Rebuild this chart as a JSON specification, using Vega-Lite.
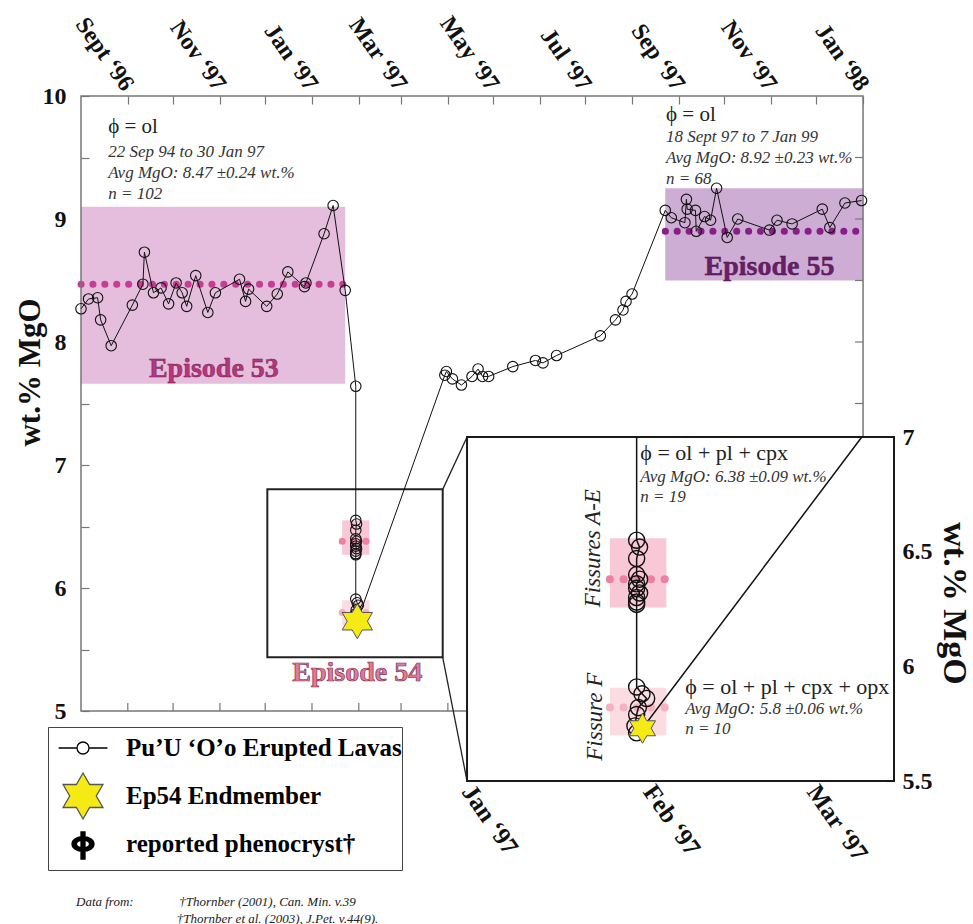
{
  "$schema": "https://vega.github.io/schema/vega-lite/v6.json",
  "width": 813,
  "height": 685,
  "autosize": {"type": "none"},
  "padding": {"left": 81, "top": 96, "right": 79, "bottom": 143},
  "background": "white",
  "config": {
    "font": "Liberation Serif",
    "view": {"stroke": null},
    "axis": {"grid": false, "domain": false, "tickColor": "#777", "tickWidth": 1.2, "labelFont": "Liberation Serif", "labelFontWeight": "bold", "labelColor": "#111", "titleFont": "Liberation Serif", "titleFontWeight": "bold", "titleColor": "#111", "labelOverlap": false, "labelFlush": false, "zindex": 1},
    "legend": {"orient": "none", "legendX": -33, "legendY": 631, "padding": 0, "strokeColor": "#444", "fillColor": "white", "labelFont": "Liberation Serif", "labelFontSize": 25, "labelFontWeight": "bold", "labelColor": "#000", "labelLimit": 0, "labelOffset": 22, "symbolSize": 1600, "symbolOffset": 14, "rowPadding": -4, "symbolStrokeWidth": 1.3}
  },
  "title": {
    "text": ["Data from:\u00a0\u00a0\u00a0\u00a0\u00a0\u00a0\u00a0\u00a0\u00a0\u00a0\u00a0\u00a0\u00a0\u00a0†Thornber (2001), Can. Min. v.39", "\u200b\u00a0\u00a0\u00a0\u00a0\u00a0\u00a0\u00a0\u00a0\u00a0\u00a0\u00a0\u00a0\u00a0\u00a0\u00a0\u00a0\u00a0\u00a0\u00a0\u00a0\u00a0\u00a0\u00a0\u00a0\u00a0\u00a0\u00a0\u00a0\u00a0\u00a0\u00a0†Thornber et al. (2003), J.Pet. v.44(9)."],
    "orient": "bottom", "anchor": "start", "frame": "group", "offset": 25, "dx": -5,
    "font": "Liberation Serif", "fontSize": 13, "fontStyle": "italic", "fontWeight": "normal", "color": "#222", "lineHeight": 17
  },
  "datasets": {
    "lavas": [
      {"i": 1, "date": "1996-08-01", "mgo": 8.27, "ep": "53"},
      {"i": 2, "date": "1996-08-06", "mgo": 8.35, "ep": "53"},
      {"i": 3, "date": "1996-08-12", "mgo": 8.36, "ep": "53"},
      {"i": 4, "date": "1996-08-14", "mgo": 8.18, "ep": "53"},
      {"i": 5, "date": "1996-08-21", "mgo": 7.97, "ep": "53"},
      {"i": 6, "date": "1996-09-04", "mgo": 8.30, "ep": "53"},
      {"i": 7, "date": "1996-09-11", "mgo": 8.47, "ep": "53"},
      {"i": 8, "date": "1996-09-12", "mgo": 8.73, "ep": "53"},
      {"i": 9, "date": "1996-09-18", "mgo": 8.40, "ep": "53"},
      {"i": 10, "date": "1996-09-23", "mgo": 8.44, "ep": "53"},
      {"i": 11, "date": "1996-09-28", "mgo": 8.31, "ep": "53"},
      {"i": 12, "date": "1996-10-03", "mgo": 8.48, "ep": "53"},
      {"i": 13, "date": "1996-10-07", "mgo": 8.40, "ep": "53"},
      {"i": 14, "date": "1996-10-10", "mgo": 8.29, "ep": "53"},
      {"i": 15, "date": "1996-10-16", "mgo": 8.54, "ep": "53"},
      {"i": 16, "date": "1996-10-24", "mgo": 8.24, "ep": "53"},
      {"i": 17, "date": "1996-10-29", "mgo": 8.40, "ep": "53"},
      {"i": 18, "date": "1996-11-14", "mgo": 8.51, "ep": "53"},
      {"i": 19, "date": "1996-11-18", "mgo": 8.33, "ep": "53"},
      {"i": 20, "date": "1996-11-20", "mgo": 8.43, "ep": "53"},
      {"i": 21, "date": "1996-12-02", "mgo": 8.29, "ep": "53"},
      {"i": 22, "date": "1996-12-09", "mgo": 8.39, "ep": "53"},
      {"i": 23, "date": "1996-12-16", "mgo": 8.57, "ep": "53"},
      {"i": 24, "date": "1996-12-27", "mgo": 8.45, "ep": "53"},
      {"i": 25, "date": "1996-12-28", "mgo": 8.48, "ep": "53"},
      {"i": 26, "date": "1997-01-09", "mgo": 8.88, "ep": "53"},
      {"i": 27, "date": "1997-01-15", "mgo": 9.11, "ep": "53"},
      {"i": 28, "date": "1997-01-23", "mgo": 8.42, "ep": "53"},
      {"i": 29, "date": "1997-01-30", "mgo": 7.64, "ep": "53"},
      {"i": 30, "date": "1997-01-30", "mgo": 7.00, "ep": "edge"},
      {"i": 31, "date": "1997-01-30", "mgo": 6.55, "ep": "54"},
      {"i": 32, "date": "1997-01-30T12:00:00Z", "mgo": 6.52, "ep": "54"},
      {"i": 33, "date": "1997-01-30", "mgo": 6.47, "ep": "54"},
      {"i": 34, "date": "1997-01-30", "mgo": 6.40, "ep": "54"},
      {"i": 35, "date": "1997-01-30T12:00:00Z", "mgo": 6.38, "ep": "54"},
      {"i": 36, "date": "1997-01-30", "mgo": 6.36, "ep": "54"},
      {"i": 37, "date": "1997-01-30", "mgo": 6.34, "ep": "54"},
      {"i": 38, "date": "1997-01-30T12:00:00Z", "mgo": 6.32, "ep": "54"},
      {"i": 39, "date": "1997-01-30", "mgo": 6.30, "ep": "54"},
      {"i": 40, "date": "1997-01-30", "mgo": 6.28, "ep": "54"},
      {"i": 41, "date": "1997-01-30", "mgo": 6.27, "ep": "54"},
      {"i": 42, "date": "1997-01-30", "mgo": 5.91, "ep": "54"},
      {"i": 43, "date": "1997-01-30T22:00:00Z", "mgo": 5.88, "ep": "54"},
      {"i": 44, "date": "1997-01-31T17:00:00Z", "mgo": 5.86, "ep": "54"},
      {"i": 45, "date": "1997-01-30T07:00:00Z", "mgo": 5.82, "ep": "54"},
      {"i": 46, "date": "1997-01-30", "mgo": 5.79, "ep": "54"},
      {"i": 47, "date": "1997-01-29T17:00:00Z", "mgo": 5.74, "ep": "54"},
      {"i": 48, "date": "1997-01-30", "mgo": 5.71, "ep": "54"},
      {"i": 49, "date": "1997-01-31", "mgo": 5.73, "ep": "54"},
      {"i": 50, "date": "1997-03-09T12:00:00Z", "mgo": 7.00, "ep": "edge"},
      {"i": 51, "date": "1997-03-30", "mgo": 7.73, "ep": "55"},
      {"i": 52, "date": "1997-03-31", "mgo": 7.76, "ep": "55"},
      {"i": 53, "date": "1997-04-04", "mgo": 7.70, "ep": "55"},
      {"i": 54, "date": "1997-04-10", "mgo": 7.65, "ep": "55"},
      {"i": 55, "date": "1997-04-17", "mgo": 7.72, "ep": "55"},
      {"i": 56, "date": "1997-04-21", "mgo": 7.78, "ep": "55"},
      {"i": 57, "date": "1997-04-24", "mgo": 7.72, "ep": "55"},
      {"i": 58, "date": "1997-04-28", "mgo": 7.72, "ep": "55"},
      {"i": 59, "date": "1997-05-14", "mgo": 7.80, "ep": "55"},
      {"i": 60, "date": "1997-05-29", "mgo": 7.85, "ep": "55"},
      {"i": 61, "date": "1997-06-03", "mgo": 7.83, "ep": "55"},
      {"i": 62, "date": "1997-06-12", "mgo": 7.89, "ep": "55"},
      {"i": 63, "date": "1997-07-11", "mgo": 8.05, "ep": "55"},
      {"i": 64, "date": "1997-07-21", "mgo": 8.18, "ep": "55"},
      {"i": 65, "date": "1997-07-26", "mgo": 8.26, "ep": "55"},
      {"i": 66, "date": "1997-07-28", "mgo": 8.33, "ep": "55"},
      {"i": 67, "date": "1997-08-01", "mgo": 8.39, "ep": "55"},
      {"i": 68, "date": "1997-08-23", "mgo": 9.07, "ep": "55"},
      {"i": 69, "date": "1997-08-27", "mgo": 9.01, "ep": "55"},
      {"i": 70, "date": "1997-09-05", "mgo": 8.97, "ep": "55"},
      {"i": 71, "date": "1997-09-06", "mgo": 9.16, "ep": "55"},
      {"i": 72, "date": "1997-09-06T12:00:00Z", "mgo": 9.08, "ep": "55"},
      {"i": 73, "date": "1997-09-12", "mgo": 9.07, "ep": "55"},
      {"i": 74, "date": "1997-09-12T12:00:00Z", "mgo": 8.90, "ep": "55"},
      {"i": 75, "date": "1997-09-18", "mgo": 9.02, "ep": "55"},
      {"i": 76, "date": "1997-09-22", "mgo": 8.99, "ep": "55"},
      {"i": 77, "date": "1997-09-26", "mgo": 9.25, "ep": "55"},
      {"i": 78, "date": "1997-10-03", "mgo": 8.85, "ep": "55"},
      {"i": 79, "date": "1997-10-10", "mgo": 9.00, "ep": "55"},
      {"i": 80, "date": "1997-10-31", "mgo": 8.91, "ep": "55"},
      {"i": 81, "date": "1997-11-05", "mgo": 8.99, "ep": "55"},
      {"i": 82, "date": "1997-11-15", "mgo": 8.96, "ep": "55"},
      {"i": 83, "date": "1997-12-05", "mgo": 9.08, "ep": "55"},
      {"i": 84, "date": "1997-12-10", "mgo": 8.93, "ep": "55"},
      {"i": 85, "date": "1997-12-20", "mgo": 9.13, "ep": "55"},
      {"i": 86, "date": "1997-12-31", "mgo": 9.15, "ep": "55"}
    ],
    "endmember": [{"date": "1997-01-31", "mgo": 5.73}],
    "bands": [
      {"view": "main", "episode": "53", "start": "1996-08-01", "end": "1997-01-23", "lo": 7.66, "hi": 9.10, "avg": 8.47},
      {"view": "main", "episode": "55", "start": "1997-08-23", "end": "1998-01-01", "lo": 8.50, "hi": 9.25, "avg": 8.90},
      {"view": "main", "episode": "54 A-E", "start": "1997-01-21", "end": "1997-02-08", "lo": 6.27, "hi": 6.55, "avg": 6.38},
      {"view": "main", "episode": "54 F", "start": "1997-01-21", "end": "1997-02-08", "lo": 5.70, "hi": 5.90, "avg": 5.80},
      {"view": "inset", "episode": "54 A-E", "start": "1997-01-25T10:00:00Z", "end": "1997-02-04T02:00:00Z", "lo": 6.257, "hi": 6.558, "avg": 6.38},
      {"view": "inset", "episode": "54 F", "start": "1997-01-25T10:00:00Z", "end": "1997-02-04T02:00:00Z", "lo": 5.70, "hi": 5.907, "avg": 5.82}
    ],
    "months": [{"m": "1996-09-01"}, {"m": "1996-10-01"}, {"m": "1996-11-01"}, {"m": "1996-12-01"}, {"m": "1997-01-01"}, {"m": "1997-02-01"}, {"m": "1997-03-01"}, {"m": "1997-04-01"}],
    "levels": [{"v": 7.5}, {"v": 8}, {"v": 8.5}, {"v": 9}, {"v": 9.5}],
    "notes": [
      {"kind": "header", "view": "main", "date": "1996-08-19", "mgo": 9.745, "text": "ϕ = ol"},
      {"kind": "header", "view": "main", "date": "1997-08-23T12:00:00Z", "mgo": 9.846, "text": "ϕ = ol"},
      {"kind": "detail", "view": "main", "date": "1996-08-19", "mgo": 9.611, "text": "22 Sep 94 to 30 Jan 97\nAvg MgO: 8.47 ±0.24 wt.%\nn = 102"},
      {"kind": "detail", "view": "main", "date": "1997-08-23T12:00:00Z", "mgo": 9.733, "text": "18 Sept 97 to 7 Jan 99\nAvg MgO: 8.92 ±0.23 wt.%\nn = 68"},
      {"kind": "ep53", "view": "main", "date": "1996-10-28", "mgo": 7.778, "text": "Episode 53"},
      {"kind": "ep55", "view": "main", "date": "1997-10-31", "mgo": 8.612, "text": "Episode 55"},
      {"kind": "ep54", "view": "main", "date": "1997-01-31", "mgo": 5.311, "text": "Episode 54"},
      {"kind": "header", "view": "inset", "date": "1997-01-30T15:00:00Z", "mgo": 6.929, "text": "ϕ = ol + pl + cpx"},
      {"kind": "header", "view": "inset", "date": "1997-02-07T07:00:00Z", "mgo": 5.911, "text": "ϕ = ol + pl + cpx + opx"},
      {"kind": "detail", "view": "inset", "date": "1997-01-30T15:00:00Z", "mgo": 6.861, "text": "Avg MgO: 6.38 ±0.09 wt.%\nn = 19"},
      {"kind": "detail", "view": "inset", "date": "1997-02-07T07:00:00Z", "mgo": 5.851, "text": "Avg MgO: 5.8 ±0.06 wt.%\nn = 10"},
      {"kind": "fissure", "view": "inset", "date": "1997-01-22T14:00:00Z", "mgo": 6.515, "text": "Fissures A-E"},
      {"kind": "fissure", "view": "inset", "date": "1997-01-22T22:00:00Z", "mgo": 5.78, "text": "Fissure F"}
    ],
    "legendEntries": [{"entry": "Pu’U ‘O’o Erupted Lavas"}, {"entry": "Ep54 Endmember"}, {"entry": "reported phenocryst†"}]
  },
  "resolve": {"scale": {"x": "independent", "y": "independent", "fill": "independent", "stroke": "independent", "shape": "independent"}},
  "layer": [
    {
      "layer": [
        {
          "data": {"name": "bands"},
          "transform": [{"filter": "datum.view == 'main'"}],
          "mark": {"type": "rect"},
          "encoding": {
            "x": {"field": "start", "type": "temporal",
              "scale": {"type": "utc", "domain": [{"year": 1996, "month": 8, "date": 1, "utc": true}, {"year": 1998, "month": 1, "date": 21, "hours": 12, "utc": true}], "nice": false},
              "axis": {"orient": "top", "title": null,
                "values": [{"year": 1996, "month": 9, "date": 1, "utc": true}, {"year": 1996, "month": 10, "date": 1, "utc": true}, {"year": 1996, "month": 11, "date": 1, "utc": true}, {"year": 1996, "month": 12, "date": 1, "utc": true}, {"year": 1997, "month": 1, "date": 1, "utc": true}, {"year": 1997, "month": 2, "date": 1, "utc": true}, {"year": 1997, "month": 3, "date": 1, "utc": true}, {"year": 1997, "month": 4, "date": 1, "utc": true}, {"year": 1997, "month": 5, "date": 1, "utc": true}, {"year": 1997, "month": 6, "date": 1, "utc": true}, {"year": 1997, "month": 7, "date": 1, "utc": true}, {"year": 1997, "month": 8, "date": 1, "utc": true}, {"year": 1997, "month": 9, "date": 1, "utc": true}, {"year": 1997, "month": 10, "date": 1, "utc": true}, {"year": 1997, "month": 11, "date": 1, "utc": true}, {"year": 1997, "month": 12, "date": 1, "utc": true}, {"year": 1998, "month": 1, "date": 1, "utc": true}],
                "labelExpr": "utcmonth(datum.value) % 2 == 0 ? ['Sept ‘96','Nov ‘97','Jan ‘97','Mar ‘97','May ‘97','Jul ‘97','Sep ‘97','Nov ‘97','Jan ‘98'][((utcyear(datum.value) - 1996) * 12 + utcmonth(datum.value) - 8) / 2] : ''",
                "labelAngle": 55, "labelAlign": "right", "labelBaseline": "middle", "labelFontSize": 24, "labelPadding": 16, "tickSize": -8}},
            "x2": {"field": "end"},
            "y": {"field": "lo", "type": "quantitative",
              "scale": {"domain": [4.431, 10], "nice": false, "zero": false},
              "axis": {"orient": "left", "title": "wt.% MgO", "values": [5, 5.5, 6, 6.5, 7, 7.5, 8, 8.5, 9, 9.5, 10], "format": "~g",
                "labelExpr": "datum.value % 1 == 0 ? datum.label : ''", "labelFontSize": 24, "labelPadding": 23, "tickSize": -8,
                "titleFontSize": 31, "titleAngle": 270, "titleX": -51, "titleY": 276, "titleAlign": "center", "titleBaseline": "middle"}},
            "y2": {"field": "hi"},
            "fill": {"field": "episode", "type": "nominal", "scale": {"domain": ["53", "55", "54 A-E", "54 F"], "range": ["#e5bedd", "#cdadd4", "#f9c8d6", "#fcdce3"]}, "legend": null}
          }
        },
        {
          "data": {"name": "bands"},
          "transform": [{"filter": "datum.view == 'main'"}],
          "mark": {"type": "rule", "strokeWidth": 7, "strokeCap": "round", "strokeDash": [0.1, 11.8]},
          "encoding": {
            "x": {"field": "start", "type": "temporal"},
            "x2": {"field": "end"},
            "y": {"field": "avg", "type": "quantitative"},
            "stroke": {"field": "episode", "type": "nominal", "scale": {"domain": ["53", "55", "54 A-E", "54 F"], "range": ["#c63d92", "#8a1e88", "#ee80a6", "#f5adc0"]}, "legend": null}
          }
        },
        {
          "data": {"values": [{}]},
          "mark": {"type": "rect", "filled": false, "stroke": "#777", "strokeWidth": 1.5},
          "encoding": {
            "x": {"datum": {"year": 1996, "month": 8, "date": 1, "utc": true}, "type": "temporal"},
            "x2": {"datum": {"year": 1998, "month": 1, "date": 1, "utc": true}},
            "y": {"datum": 5, "type": "quantitative"},
            "y2": {"datum": 10}
          }
        },
        {
          "data": {"name": "months"},
          "mark": {"type": "tick", "orient": "vertical", "size": 8, "thickness": 1.2, "color": "#777", "yOffset": -4, "opacity": 1},
          "encoding": {
            "x": {"field": "m", "type": "temporal"},
            "y": {"datum": 5, "type": "quantitative"}
          }
        },
        {
          "data": {"name": "levels"},
          "mark": {"type": "tick", "orient": "horizontal", "size": 8, "thickness": 1.2, "color": "#777", "xOffset": -4, "opacity": 1},
          "encoding": {
            "x": {"datum": {"year": 1998, "month": 1, "date": 1, "utc": true}, "type": "temporal"},
            "y": {"field": "v", "type": "quantitative"}
          }
        },
        {
          "data": {"values": [{}]},
          "mark": {"type": "rect", "filled": false, "stroke": "#222", "strokeWidth": 2},
          "encoding": {
            "x": {"datum": {"year": 1996, "month": 12, "date": 2, "hours": 10, "utc": true}, "type": "temporal"},
            "x2": {"datum": {"year": 1997, "month": 3, "date": 28, "hours": 14, "utc": true}},
            "y": {"datum": 5.437, "type": "quantitative"},
            "y2": {"datum": 6.802}
          }
        },
        {
          "data": {"values": [{}]},
          "mark": {"type": "rule", "stroke": "#222", "strokeWidth": 1.3},
          "encoding": {
            "x": {"datum": {"year": 1997, "month": 3, "date": 28, "hours": 14, "utc": true}, "type": "temporal"},
            "y": {"datum": 6.802, "type": "quantitative"},
            "x2": {"datum": {"year": 1997, "month": 4, "date": 13, "hours": 17, "utc": true}},
            "y2": {"datum": 7.228}
          }
        },
        {
          "data": {"values": [{}]},
          "mark": {"type": "rule", "stroke": "#222", "strokeWidth": 1.3},
          "encoding": {
            "x": {"datum": {"year": 1997, "month": 3, "date": 28, "hours": 14, "utc": true}, "type": "temporal"},
            "y": {"datum": 5.437, "type": "quantitative"},
            "x2": {"datum": {"year": 1997, "month": 4, "date": 13, "hours": 17, "utc": true}},
            "y2": {"datum": 4.431}
          }
        },
        {
          "data": {"name": "lavas"},
          "transform": [{"filter": "datum.ep != 'edge'"}],
          "mark": {"type": "line", "color": "#111", "strokeWidth": 1},
          "encoding": {
            "x": {"field": "date", "type": "temporal"},
            "y": {"field": "mgo", "type": "quantitative"},
            "order": {"field": "i", "type": "quantitative"}
          }
        },
        {
          "data": {"name": "lavas"},
          "transform": [{"filter": "datum.ep != 'edge'"}],
          "mark": {"type": "point", "shape": "circle", "size": 110, "filled": false, "stroke": "#111", "strokeWidth": 1.1, "opacity": 1},
          "encoding": {
            "x": {"field": "date", "type": "temporal"},
            "y": {"field": "mgo", "type": "quantitative"}
          }
        },
        {
          "data": {"name": "endmember"},
          "mark": {"type": "point", "shape": "M0,-1L0.2887,-0.5L0.866,-0.5L0.5774,0L0.866,0.5L0.2887,0.5L0,1L-0.2887,0.5L-0.866,0.5L-0.5774,0L-0.866,-0.5L-0.2887,-0.5Z", "size": 1225, "filled": true, "fill": "#f5ea14", "stroke": "#555", "strokeWidth": 1, "opacity": 1},
          "encoding": {
            "x": {"field": "date", "type": "temporal"},
            "y": {"field": "mgo", "type": "quantitative"}
          }
        },
        {
          "data": {"name": "notes"},
          "transform": [{"filter": "datum.kind == 'header' && datum.view == 'main'"}],
          "mark": {"type": "text", "align": "left", "baseline": "middle", "fontSize": 21, "color": "#222"},
          "encoding": {
            "x": {"field": "date", "type": "temporal"},
            "y": {"field": "mgo", "type": "quantitative"},
            "text": {"field": "text"}
          }
        },
        {
          "data": {"name": "notes"},
          "transform": [{"filter": "datum.kind == 'detail' && datum.view == 'main'"}],
          "mark": {"type": "text", "align": "left", "baseline": "top", "fontSize": 17, "fontStyle": "italic", "lineBreak": "\n", "lineHeight": 21, "color": "#333"},
          "encoding": {
            "x": {"field": "date", "type": "temporal"},
            "y": {"field": "mgo", "type": "quantitative"},
            "text": {"field": "text"}
          }
        },
        {
          "data": {"name": "notes"},
          "transform": [{"filter": "datum.kind == 'ep53'"}],
          "mark": {"type": "text", "align": "center", "baseline": "middle", "fontSize": 28, "fontWeight": "bold", "color": "#b8357f", "stroke": "#6e1f4c", "strokeWidth": 0.5},
          "encoding": {
            "x": {"field": "date", "type": "temporal"},
            "y": {"field": "mgo", "type": "quantitative"},
            "text": {"field": "text"}
          }
        },
        {
          "data": {"name": "notes"},
          "transform": [{"filter": "datum.kind == 'ep55'"}],
          "mark": {"type": "text", "align": "center", "baseline": "middle", "fontSize": 28, "fontWeight": "bold", "color": "#6a1d6d", "stroke": "#3e0c40", "strokeWidth": 0.4},
          "encoding": {
            "x": {"field": "date", "type": "temporal"},
            "y": {"field": "mgo", "type": "quantitative"},
            "text": {"field": "text"}
          }
        },
        {
          "data": {"name": "notes"},
          "transform": [{"filter": "datum.kind == 'ep54'"}],
          "mark": {"type": "text", "align": "center", "baseline": "middle", "fontSize": 28, "fontWeight": "bold", "color": "#e07a9c", "stroke": "#7c2d4a", "strokeWidth": 0.7},
          "encoding": {
            "x": {"field": "date", "type": "temporal"},
            "y": {"field": "mgo", "type": "quantitative"},
            "text": {"field": "text"}
          }
        }
      ]
    },
    {
      "layer": [
        {
          "data": {"values": [{}]},
          "mark": {"type": "rect", "fill": "white", "stroke": "#1a1a1a", "strokeWidth": 2},
          "encoding": {
            "x": {"datum": {"year": 1997, "month": 1, "date": 1, "utc": true}, "type": "temporal",
              "scale": {"type": "utc", "domain": [{"year": 1996, "month": 10, "date": 27, "utc": true}, {"year": 1997, "month": 3, "date": 15, "utc": true}], "nice": false},
              "axis": {"orient": "bottom", "title": null,
                "values": [{"year": 1997, "month": 1, "date": 1, "utc": true}, {"year": 1997, "month": 2, "date": 1, "utc": true}, {"year": 1997, "month": 3, "date": 1, "utc": true}],
                "labelExpr": "['Jan ‘97','Feb ‘97','Mar ‘97'][utcmonth(datum.value)]",
                "labelAngle": 55, "labelAlign": "left", "labelBaseline": "middle", "labelFontSize": 25, "labelPadding": 12, "tickSize": -6}},
            "x2": {"datum": {"year": 1997, "month": 3, "date": 15, "utc": true}},
            "y": {"datum": 5.5, "type": "quantitative",
              "scale": {"domain": [5.5, 8.487], "nice": false, "zero": false},
              "axis": {"orient": "right", "title": "wt.% MgO", "values": [5.5, 6, 6.5, 7], "format": "~g", "labelFontSize": 24, "labelPadding": 16, "tickSize": -8,
                "titleFontSize": 34, "titleAngle": 90, "titleX": 59, "titleY": 507, "titleAlign": "center", "titleBaseline": "middle"}},
            "y2": {"datum": 7}
          }
        },
        {
          "data": {"name": "bands"},
          "transform": [{"filter": "datum.view == 'inset'"}],
          "mark": {"type": "rect"},
          "encoding": {
            "x": {"field": "start", "type": "temporal"},
            "x2": {"field": "end"},
            "y": {"field": "lo", "type": "quantitative"},
            "y2": {"field": "hi"},
            "fill": {"field": "episode", "type": "nominal", "scale": {"domain": ["54 A-E", "54 F"], "range": ["#f9c8d6", "#fcdce3"]}, "legend": null}
          }
        },
        {
          "data": {"name": "bands"},
          "transform": [{"filter": "datum.view == 'inset'"}],
          "mark": {"type": "rule", "strokeWidth": 8, "strokeCap": "round", "strokeDash": [0.1, 13.6]},
          "encoding": {
            "x": {"field": "start", "type": "temporal"},
            "x2": {"field": "end"},
            "y": {"field": "avg", "type": "quantitative"},
            "stroke": {"field": "episode", "type": "nominal", "scale": {"domain": ["54 A-E", "54 F"], "range": ["#ee80a6", "#f5b0c2"]}, "legend": null}
          }
        },
        {
          "data": {"name": "lavas"},
          "transform": [{"filter": "datum.ep == '54' || datum.ep == 'edge'"}],
          "mark": {"type": "line", "color": "#111", "strokeWidth": 1.5},
          "encoding": {
            "x": {"field": "date", "type": "temporal"},
            "y": {"field": "mgo", "type": "quantitative"},
            "order": {"field": "i", "type": "quantitative"}
          }
        },
        {
          "data": {"name": "lavas"},
          "transform": [{"filter": "datum.ep == '54'"}],
          "mark": {"type": "point", "shape": "circle", "size": 260, "filled": false, "stroke": "#111", "strokeWidth": 1.4, "opacity": 1},
          "encoding": {
            "x": {"field": "date", "type": "temporal"},
            "y": {"field": "mgo", "type": "quantitative"}
          }
        },
        {
          "data": {"name": "endmember"},
          "mark": {"type": "point", "shape": "M0,-1L0.2887,-0.5L0.866,-0.5L0.5774,0L0.866,0.5L0.2887,0.5L0,1L-0.2887,0.5L-0.866,0.5L-0.5774,0L-0.866,-0.5L-0.2887,-0.5Z", "size": 900, "filled": true, "fill": "#f5ea14", "stroke": "#555", "strokeWidth": 1, "opacity": 1},
          "encoding": {
            "x": {"field": "date", "type": "temporal"},
            "y": {"field": "mgo", "type": "quantitative"}
          }
        },
        {
          "data": {"name": "notes"},
          "transform": [{"filter": "datum.kind == 'header' && datum.view == 'inset'"}],
          "mark": {"type": "text", "align": "left", "baseline": "middle", "fontSize": 22, "color": "#222"},
          "encoding": {
            "x": {"field": "date", "type": "temporal"},
            "y": {"field": "mgo", "type": "quantitative"},
            "text": {"field": "text"}
          }
        },
        {
          "data": {"name": "notes"},
          "transform": [{"filter": "datum.kind == 'detail' && datum.view == 'inset'"}],
          "mark": {"type": "text", "align": "left", "baseline": "top", "fontSize": 17, "fontStyle": "italic", "lineBreak": "\n", "lineHeight": 20, "color": "#333"},
          "encoding": {
            "x": {"field": "date", "type": "temporal"},
            "y": {"field": "mgo", "type": "quantitative"},
            "text": {"field": "text"}
          }
        },
        {
          "data": {"name": "notes"},
          "transform": [{"filter": "datum.kind == 'fissure'"}],
          "mark": {"type": "text", "align": "center", "baseline": "middle", "angle": 270, "fontSize": 23, "fontStyle": "italic", "color": "#222"},
          "encoding": {
            "x": {"field": "date", "type": "temporal"},
            "y": {"field": "mgo", "type": "quantitative"},
            "text": {"field": "text"}
          }
        }
      ]
    },
    {
      "data": {"name": "legendEntries"},
      "transform": [{"filter": "false"}],
      "mark": {"type": "point", "opacity": 1},
      "encoding": {
        "shape": {"field": "entry", "type": "nominal",
          "scale": {"domain": ["Pu’U ‘O’o Erupted Lavas", "Ep54 Endmember", "reported phenocryst†"],
            "range": ["M0,-1.15L0,-1.15M0,1.15L0,1.15M-1.22,0L-0.3,0M0.3,0L1.22,0M-0.3,0A0.3,0.3 0 1,1 0.3,0A0.3,0.3 0 1,1 -0.3,0Z",
              "M0,-1.15L0.332,-0.575L0.9959,-0.575L0.664,0L0.9959,0.575L0.332,0.575L0,1.15L-0.332,0.575L-0.9959,0.575L-0.664,0L-0.9959,-0.575L-0.332,-0.575Z",
              "M0,-1.15L0,-1.15M0,1.15L0,1.15M-0.1,-0.6L0.1,-0.6L0.1,0.75L-0.1,0.75Z M-0.55,0A0.55,0.37 0 1,1 0.55,0A0.55,0.37 0 1,1 -0.55,0Z M-0.33,0A0.33,0.2 0 1,0 0.33,0A0.33,0.2 0 1,0 -0.33,0Z"]},
          "legend": {"title": null, "orient": "none", "legendX": -33, "legendY": 631,
            "encode": {"legend": {"update": {"stroke": {"value": "#444"}, "strokeWidth": {"value": 2}, "fill": {"value": "white"}}}}}},
        "fill": {"field": "entry", "type": "nominal",
          "scale": {"domain": ["Pu’U ‘O’o Erupted Lavas", "Ep54 Endmember", "reported phenocryst†"], "range": ["transparent", "#f5ea14", "#000000"]},
          "legend": {"title": null}},
        "stroke": {"field": "entry", "type": "nominal",
          "scale": {"domain": ["Pu’U ‘O’o Erupted Lavas", "Ep54 Endmember", "reported phenocryst†"], "range": ["#000000", "#555555", "#000000"]},
          "legend": {"title": null}}
      }
    }
  ]
}
